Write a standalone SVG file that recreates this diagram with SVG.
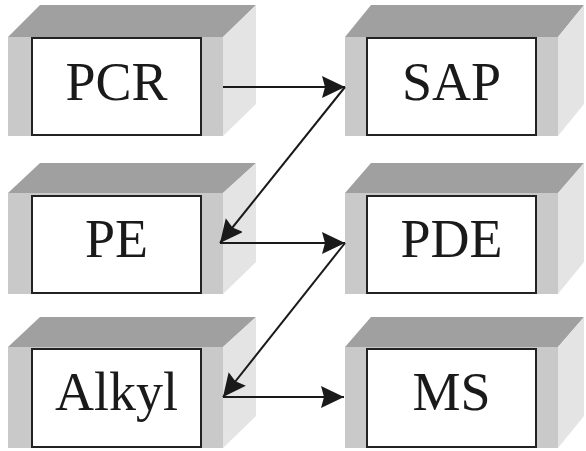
<svg xmlns="http://www.w3.org/2000/svg" width="586" height="451" viewBox="0 0 586 451">
<style>
.top{fill:#a0a0a0}
.front{fill:#c9c9c9}
.side{fill:#e4e4e4}
.box{fill:#fff;stroke:#222;stroke-width:2}
.lbl{font-family:"Liberation Serif","Times New Roman",serif;font-size:54px;fill:#1a1a1a;text-anchor:middle}
.conn{stroke:#1a1a1a;stroke-width:2;fill:none;marker-end:url(#ah)}
</style>
<defs>
<marker id="ah" markerUnits="userSpaceOnUse" markerWidth="26" markerHeight="24" refX="23" refY="11" orient="auto">
<path d="M0,0 L23,11 L0,22 L3,11 Z" fill="#1a1a1a"/>
</marker>
</defs>
<rect width="586" height="451" fill="#fff"/>
<g id="PCR">
<polygon class="top" points="8,37 40,5 256,5 223,37"/>
<polygon class="side" points="223,37 256,5 256,104 223,136"/>
<rect class="front" x="8" y="37" width="215" height="99"/>
<rect class="box" x="32" y="38" width="169" height="97"/>
<text class="lbl" x="116.5" y="100">PCR</text>
</g>
<g id="SAP">
<polygon class="top" points="345,37 371,5 584,5 558,37"/>
<polygon class="side" points="558,37 584,5 584,104 558,136"/>
<rect class="front" x="345" y="37" width="213" height="99"/>
<rect class="box" x="367" y="38" width="169" height="97"/>
<text class="lbl" x="451.5" y="100">SAP</text>
</g>
<g id="PE">
<polygon class="top" points="8,193 40,163 256,163 223,193"/>
<polygon class="side" points="223,193 256,163 256,262 223,294"/>
<rect class="front" x="8" y="193" width="215" height="101"/>
<rect class="box" x="32" y="196" width="169" height="97"/>
<text class="lbl" x="116.5" y="257">PE</text>
</g>
<g id="PDE">
<polygon class="top" points="345,193 371,163 584,163 558,193"/>
<polygon class="side" points="558,193 584,163 584,262 558,294"/>
<rect class="front" x="345" y="193" width="213" height="101"/>
<rect class="box" x="367" y="196" width="169" height="97"/>
<text class="lbl" x="451.5" y="257">PDE</text>
</g>
<g id="Alkyl">
<polygon class="top" points="8,347 40,317 256,317 223,347"/>
<polygon class="side" points="223,347 256,317 256,416 223,448"/>
<rect class="front" x="8" y="347" width="215" height="101"/>
<rect class="box" x="32" y="349" width="169" height="98"/>
<text class="lbl" x="116.5" y="410">Alkyl</text>
</g>
<g id="MS">
<polygon class="top" points="345,347 371,317 584,317 558,347"/>
<polygon class="side" points="558,347 584,317 584,416 558,448"/>
<rect class="front" x="345" y="347" width="213" height="101"/>
<rect class="box" x="367" y="349" width="169" height="98"/>
<text class="lbl" x="451.5" y="410">MS</text>
</g>
<g id="connectors">
<line class="conn" x1="223" y1="87" x2="345" y2="87"/>
<line class="conn" x1="345" y1="87" x2="220" y2="243"/>
<line class="conn" x1="220" y1="243" x2="345" y2="243"/>
<line class="conn" x1="345" y1="243" x2="223" y2="397"/>
<line class="conn" x1="223" y1="397" x2="344" y2="397"/>
</g>
</svg>
